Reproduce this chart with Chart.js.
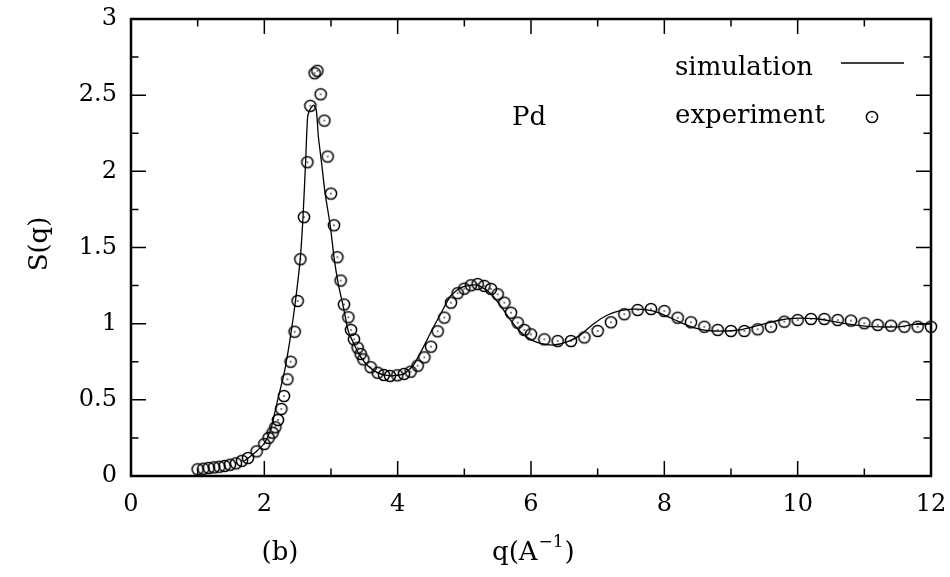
<!DOCTYPE html>
<html>
<head>
<meta charset="utf-8">
<script src="https://cdn.jsdelivr.net/npm/chart.js@4"></script>
<style>
  html, body { margin: 0; padding: 0; background: #fff; }
  #wrap { width: 950px; height: 577px; }
</style>
</head>
<body>
<div id="wrap"><canvas id="chart" width="950" height="577"></canvas></div>
<script>
// simulation curve S(q)
const simQ = [1.70, 1.85, 2.00, 2.10, 2.20, 2.30, 2.38, 2.44, 2.49, 2.54, 2.58, 2.62, 2.65, 2.69, 2.74, 2.78,
  2.81, 2.86, 2.91, 2.99, 3.05, 3.11, 3.19, 3.26, 3.34, 3.44, 3.56, 3.69, 3.84, 3.99, 4.11, 4.24, 4.39,
  4.54, 4.64, 4.79, 4.94, 5.14, 5.24, 5.39, 5.54, 5.69, 5.84, 5.99, 6.14, 6.34, 6.54, 6.74, 6.94, 7.14,
  7.34, 7.54, 7.74, 7.94, 8.14, 8.34, 8.54, 8.74, 8.94, 9.14, 9.34, 9.54, 9.74, 9.94, 10.14, 10.34,
  10.54, 10.74, 10.94, 11.14, 11.34, 11.54, 11.74, 12.0];
const simS = [0.10, 0.15, 0.215, 0.31, 0.50, 0.68, 0.88, 1.06, 1.23, 1.43, 1.70, 2.07, 2.36, 2.41, 2.435, 2.40,
  2.23, 2.05, 1.86, 1.64, 1.42, 1.26, 1.10, 0.95, 0.87, 0.785, 0.72, 0.68, 0.66, 0.66, 0.675, 0.73, 0.85,
  0.98, 1.06, 1.18, 1.235, 1.255, 1.245, 1.20, 1.12, 1.025, 0.947, 0.897, 0.871, 0.86, 0.88, 0.925, 1.00, 1.055,
  1.085, 1.095, 1.09, 1.068, 1.029, 0.991, 0.963, 0.952, 0.952, 0.959, 0.98, 1.003, 1.024, 1.035, 1.035, 1.029,
  1.013, 0.998, 0.987, 0.98, 0.978, 0.98, 0.995, 1.0];

// experimental points
const expQ = [1.00, 1.085, 1.165, 1.245, 1.325, 1.405, 1.485, 1.575, 1.665, 1.755, 1.885, 2.00, 2.065, 2.125,
  2.165, 2.205, 2.255, 2.295, 2.345, 2.395, 2.455, 2.50, 2.54, 2.595, 2.645, 2.69, 2.755, 2.795, 2.845, 2.90,
  2.95, 3.00, 3.045, 3.095, 3.145, 3.195, 3.26, 3.30, 3.345, 3.40, 3.445, 3.485, 3.595, 3.70, 3.795, 3.885,
  3.995, 4.095, 4.195, 4.30, 4.40, 4.50, 4.60, 4.70, 4.80, 4.90, 5.00, 5.10, 5.20, 5.30, 5.40, 5.50, 5.60,
  5.70, 5.80, 5.90, 6.00, 6.20, 6.40, 6.60, 6.80, 7.00, 7.20, 7.40, 7.60, 7.80, 8.00, 8.20, 8.40, 8.60, 8.80,
  9.00, 9.20, 9.40, 9.60, 9.80, 10.00, 10.20, 10.40, 10.60, 10.80, 11.00, 11.20, 11.40, 11.60, 11.80, 12.00];
const expS = [0.044, 0.048, 0.053, 0.057, 0.061, 0.066, 0.074, 0.083, 0.10, 0.118, 0.162, 0.21, 0.25, 0.284,
  0.32, 0.368, 0.44, 0.525, 0.635, 0.75, 0.947, 1.149, 1.423, 1.699, 2.06, 2.43, 2.644, 2.66, 2.506, 2.333,
  2.097, 1.854, 1.646, 1.436, 1.283, 1.126, 1.042, 0.959, 0.897, 0.842, 0.801, 0.766, 0.714, 0.678, 0.663, 0.657,
  0.661, 0.67, 0.685, 0.724, 0.779, 0.849, 0.95, 1.04, 1.138, 1.20, 1.23, 1.252, 1.26, 1.248, 1.228, 1.193, 1.138,
  1.072, 1.007, 0.959, 0.93, 0.897, 0.886, 0.886, 0.91, 0.952, 1.009, 1.062, 1.09, 1.096, 1.083, 1.039, 1.009, 0.98, 0.959,
  0.952, 0.952, 0.963, 0.98, 1.013, 1.024, 1.031, 1.031, 1.024, 1.02, 1.003, 0.992, 0.987, 0.98, 0.98, 0.98];

const xTicks = [0, 2, 4, 6, 8, 10, 12];
const yTicks = [0, 0.5, 1, 1.5, 2, 2.5, 3];

const FONT = 'DejaVu Serif';

// circle with a dot in the middle, like gnuplot's point type
function ringMarker() {
  const c = document.createElement('canvas');
  c.width = 16; c.height = 16;
  const g = c.getContext('2d');
  g.strokeStyle = '#000';
  g.lineWidth = 1.5;
  g.beginPath();
  g.arc(8, 8, 5.6, 0, Math.PI * 2);
  g.stroke();
  g.fillStyle = '#000';
  g.fillRect(7.3, 7.3, 1.4, 1.4);
  return c;
}
const marker = ringMarker();

// frame, mirrored inward ticks and the free texts
const decorations = {
  id: 'decorations',
  afterDatasetsDraw(chart) {
    const { ctx, chartArea: a, scales } = chart;
    const xs = scales.x, ys = scales.y;
    ctx.save();
    ctx.strokeStyle = '#000';
    ctx.lineWidth = 1.5;
    ctx.beginPath();
    for (let v = 0; v <= 12; v++) {
      const px = xs.getPixelForValue(v);
      const len = v % 2 === 0 ? 15 : 7.5;
      ctx.moveTo(px, a.bottom); ctx.lineTo(px, a.bottom - len);
      ctx.moveTo(px, a.top); ctx.lineTo(px, a.top + len);
    }
    for (let k = 0; k <= 12; k++) {
      const py = ys.getPixelForValue(k * 0.25);
      const len = k % 2 === 0 ? 15 : 7.5;
      ctx.moveTo(a.left, py); ctx.lineTo(a.left + len, py);
      ctx.moveTo(a.right, py); ctx.lineTo(a.right - len, py);
    }
    ctx.stroke();
    ctx.lineWidth = 2.5;
    ctx.strokeRect(a.left, a.top, a.right - a.left, a.bottom - a.top);

    // legend
    ctx.fillStyle = '#000';
    ctx.font = '26px "' + FONT + '"';
    ctx.textBaseline = 'alphabetic';
    ctx.textAlign = 'left';
    ctx.fillText('simulation', 675, 75);
    ctx.fillText('experiment', 675, 123);
    ctx.lineWidth = 1.3;
    ctx.beginPath();
    ctx.moveTo(841, 63); ctx.lineTo(904, 63);
    ctx.stroke();
    ctx.drawImage(marker, 872 - 8, 117 - 8);

    ctx.fillText('Pd', 512, 125);

    // bottom texts
    ctx.textAlign = 'center';
    ctx.fillText('(b)', 280, 560);
    ctx.textAlign = 'left';
    const base = 'q(A';
    let x0 = 492;
    ctx.fillText(base, x0, 560);
    x0 += ctx.measureText(base).width;
    ctx.font = '17px "' + FONT + '"';
    ctx.fillText('\u22121', x0 + 1, 547);
    x0 += ctx.measureText('\u22121').width + 2;
    ctx.font = '26px "' + FONT + '"';
    ctx.fillText(')', x0, 560);

    // y title
    ctx.translate(40, 244);
    ctx.rotate(-Math.PI / 2);
    ctx.textAlign = 'center';
    ctx.textBaseline = 'middle';
    ctx.fillText('S(q)', 0, 0);
    ctx.restore();
  }
};

function noOverflow(s) {
  s.paddingTop = 0; s.paddingBottom = 0; s.paddingLeft = 0; s.paddingRight = 0;
}

new Chart(document.getElementById('chart'), {
  type: 'scatter',
  data: {
    datasets: [
      {
        label: 'simulation',
        data: simQ.map((q, i) => ({ x: q, y: simS[i] })),
        showLine: true,
        borderColor: '#000',
        borderWidth: 1.3,
        pointRadius: 0,
        tension: 0.2,
        clip: false
      },
      {
        label: 'experiment',
        data: expQ.map((q, i) => ({ x: q, y: expS[i] })),
        showLine: false,
        pointStyle: marker,
        pointRadius: 6,
        clip: false
      }
    ]
  },
  options: {
    responsive: false,
    animation: false,
    devicePixelRatio: 1,
    layout: { padding: { top: 19, right: 19, left: 0, bottom: 0 } },
    plugins: { legend: { display: false }, tooltip: { enabled: false } },
    scales: {
      x: {
        type: 'linear',
        min: 0, max: 12,
        afterBuildTicks: s => { s.ticks = xTicks.map(v => ({ value: v })); },
        ticks: { color: '#000', font: { family: FONT, size: 24 }, padding: 14, maxRotation: 0,
          callback: v => String(v) },
        grid: { display: false, drawTicks: false },
        border: { display: false },
        afterFit: s => { s.height = 101; noOverflow(s); }
      },
      y: {
        type: 'linear',
        min: 0, max: 3,
        afterBuildTicks: s => { s.ticks = yTicks.map(v => ({ value: v })); },
        ticks: { color: '#000', font: { family: FONT, size: 24 }, padding: 14,
          callback: v => String(v) },
        grid: { display: false, drawTicks: false },
        border: { display: false },
        afterFit: s => { s.width = 131; noOverflow(s); }
      }
    }
  },
  plugins: [decorations]
});
</script>
</body>
</html>
